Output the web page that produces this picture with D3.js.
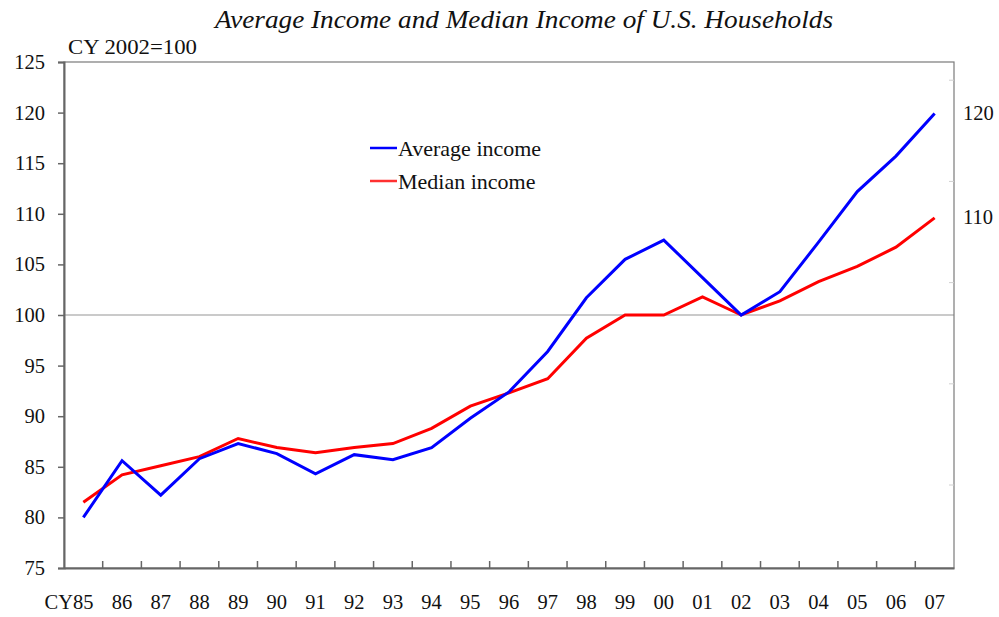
<!DOCTYPE html>
<html>
<meta charset="utf-8">
<script src="https://d3js.org/d3.v7.min.js"></script>
<style>
  body { margin: 0; background: #fff; }
  text { font-family: "Liberation Serif", "Times New Roman", serif; fill: #111; }
</style>
<body>
<div id="vis"></div>
<script>
  // years shown on the x axis
  const years = ["85", "86", "87", "88", "89", "90", "91", "92", "93", "94", "95",
                 "96", "97", "98", "99", "00", "01", "02", "03", "04", "05", "06", "07"];
  // CY 2002 = 100
  const averageIncome = [80.0, 85.6, 82.2, 85.8, 87.3, 86.3, 84.3, 86.2, 85.7, 86.9, 89.8,
                         92.4, 96.4, 101.7, 105.5, 107.4, 103.7, 100.0, 102.3, 107.2, 112.2, 115.7, 119.9];
  const medianIncome  = [81.5, 84.2, 85.1, 86.0, 87.8, 86.9, 86.4, 86.9, 87.3, 88.8, 91.0,
                         92.3, 93.7, 97.7, 100.0, 100.0, 101.8, 100.0, 101.4, 103.3, 104.8, 106.7, 109.6];
  const leftTicks = [75, 80, 85, 90, 95, 100, 105, 110, 115, 120, 125];
  const rightLabels = [120, 110];
  const rightTicks = [123.2, 113.2, 103.2, 93.2, 83.2];

  const total_width = 999, total_height = 617;
  const margin = {top: 62, right: 45, bottom: 49, left: 64};
  const width = total_width - margin.left - margin.right,
        height = total_height - margin.top - margin.bottom;

  const svg = d3.select("#vis")
    .append("svg")
      .attr("width", total_width)
      .attr("height", total_height);

  const g = svg.append("g")
      .attr("transform", `translate(${margin.left},${margin.top})`);

  const x = d3.scaleBand()
    .domain(years)
    .range([0, width]);

  const y = d3.scaleLinear()
    .domain([75, 125])
    .range([height, 0]);

  // title
  svg.append("text")
    .attr("x", 215)
    .attr("y", 28)
    .attr("textLength", 618)
    .attr("lengthAdjust", "spacingAndGlyphs")
    .style("font-style", "italic")
    .style("font-size", "25px")
    .text("Average Income and Median Income of U.S. Households");

  svg.append("text")
    .attr("x", 68)
    .attr("y", 54)
    .attr("textLength", 129)
    .attr("lengthAdjust", "spacingAndGlyphs")
    .style("font-size", "21px")
    .text("CY 2002=100");

  // reference line at 100
  g.append("line")
    .attr("x1", 0)
    .attr("x2", width)
    .attr("y1", y(100))
    .attr("y2", y(100))
    .attr("stroke", "#b8b8b8")
    .attr("stroke-width", 1.5);

  // frame
  g.append("rect")
    .attr("width", width)
    .attr("height", height)
    .attr("fill", "none")
    .attr("stroke", "#7a7a7a")
    .attr("stroke-width", 1.2);

  // left axis
  const yAxis = g.append("g")
    .call(d3.axisLeft(y).tickValues(leftTicks).tickSize(6).tickPadding(13));
  yAxis.select(".domain").attr("stroke", "#666").attr("stroke-width", 2);
  yAxis.selectAll(".tick line").attr("stroke", "#666").attr("stroke-width", 1.5);
  yAxis.selectAll("text").style("font-size", "20.5px").attr("fill", "#111")
    .style("font-family", "Liberation Serif, serif");

  // right side: faint ticks and two labels
  g.selectAll(".rtick")
    .data(rightTicks)
    .join("line")
      .attr("x1", width - 5)
      .attr("x2", width)
      .attr("y1", d => y(d))
      .attr("y2", d => y(d))
      .attr("stroke", "#d0d0d0");

  g.selectAll(".rlabel")
    .data(rightLabels)
    .join("text")
      .attr("x", width + 9)
      .attr("y", d => y(d) + (d === 110 ? 3 : 0))
      .attr("dy", "0.35em")
      .style("font-size", "20.5px")
      .text(d => d);

  // bottom axis: labels at category centres, ticks at boundaries
  const xAxis = g.append("g")
    .attr("transform", `translate(0,${height})`)
    .call(d3.axisBottom(x).tickSize(0).tickPadding(26));
  xAxis.select(".domain").attr("stroke", "#666").attr("stroke-width", 2);
  xAxis.selectAll("text").style("font-size", "20.5px").attr("fill", "#111")
    .style("font-family", "Liberation Serif, serif");
  xAxis.selectAll("text")
    .filter(d => d === "85")
    .attr("text-anchor", "end")
    .attr("dx", "0.5em")
    .text("CY85");

  g.selectAll(".xtick")
    .data(years.slice(1))
    .join("line")
      .attr("x1", d => x(d))
      .attr("x2", d => x(d))
      .attr("y1", height)
      .attr("y2", height - 7)
      .attr("stroke", "#666")
      .attr("stroke-width", 1.5);

  // lines
  const line = d3.line()
    .x((d, i) => x(years[i]) + x.bandwidth() / 2)
    .y(d => y(d));

  g.append("path")
    .datum(medianIncome)
    .attr("fill", "none")
    .attr("stroke", "#ff0000")
    .attr("stroke-width", 3)
    .attr("d", line);

  g.append("path")
    .datum(averageIncome)
    .attr("fill", "none")
    .attr("stroke", "#0000ff")
    .attr("stroke-width", 3)
    .attr("d", line);

  // legend
  const legend = [
    {name: "Average income", color: "#0000ff", y: 148},
    {name: "Median income", color: "#ff3030", y: 181}
  ];
  const lg = svg.append("g");
  lg.selectAll("line")
    .data(legend)
    .join("line")
      .attr("x1", 370)
      .attr("x2", 397)
      .attr("y1", d => d.y)
      .attr("y2", d => d.y)
      .attr("stroke", d => d.color)
      .attr("stroke-width", 2.5);
  lg.selectAll("text")
    .data(legend)
    .join("text")
      .attr("x", 398)
      .attr("y", d => d.y)
      .attr("dy", "0.35em")
      .style("font-size", "22px")
      .text(d => d.name);
</script>
</body>
</html>
